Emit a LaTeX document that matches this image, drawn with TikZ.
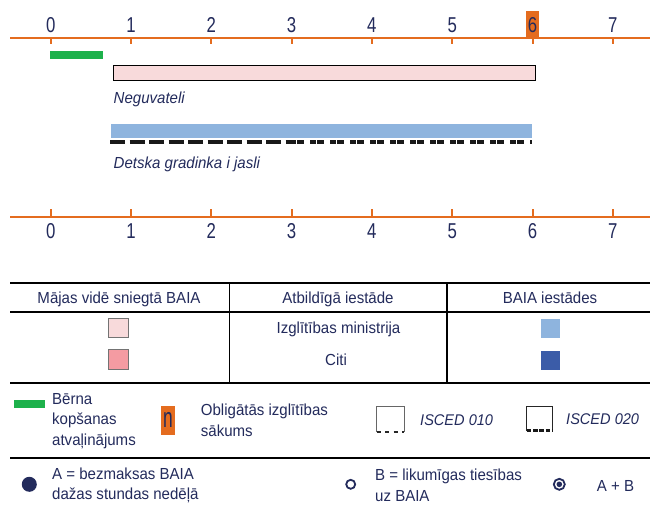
\documentclass[tikz,border=0pt]{standalone}
\usepackage{fontspec}
\setmainfont{Liberation Sans}
\newfontfamily\bodyfont[FakeStretch=0.94]{Liberation Sans}
\newfontfamily\digfont[FakeStretch=0.78]{Liberation Sans}
\newfontfamily\nfont[FakeStretch=0.62]{Liberation Sans}
\definecolor{axisor}{HTML}{E46C1F}
\definecolor{navy}{HTML}{232B5C}
\definecolor{grn}{HTML}{1DB14B}
\definecolor{pinkl}{HTML}{F8DADB}
\definecolor{pinkd}{HTML}{F49BA2}
\definecolor{bluel}{HTML}{8EB4DE}
\definecolor{blued}{HTML}{3B5CA8}
\tikzset{
  txt/.style={font=\bodyfont\fontsize{16}{20.5}\selectfont, text=navy, inner sep=0pt},
  one/.style={txt, text height=11.5pt, text depth=0pt},
  multi/.style={txt, align=left},
  dig/.style={font=\digfont\fontsize{21.5}{24}\selectfont, text=navy, inner sep=0pt, text height=15.4pt, text depth=0pt},
  axisline/.style={draw=axisor, line width=2.2pt},
  tickmark/.style={draw=axisor, line width=2pt},
  rule/.style={draw=black, line width=2pt},
  vrule/.style={draw=black, line width=1.5pt},
  swatch/.style={draw=black!55, line width=0.8pt},
}
\begin{document}
\begin{tikzpicture}[x=1pt,y=-1pt]
\useasboundingbox (0,0) rectangle (650,505);
\fill[white] (0,0) rectangle (650,505);

% ---------- top axis ----------
\coordinate (ta0) at (10,37.7);
\coordinate (ta1) at (650,37.7);
\fill[axisor] (526,11) rectangle (539,37.7);
\draw[axisline] (ta0) -- (ta1);
\foreach \k in {0,...,7}{
  \pgfmathsetmacro\xx{50.7+80.3*\k}
  \coordinate (tt\k) at (\xx,37.7);
  \coordinate (tb\k) at (\xx,44);
  \draw[tickmark] (tt\k) -- (tb\k);
  \node[dig] (tl\k) at (\xx,25) {\k};
}

% ---------- bars ----------
\fill[grn] (50,51) rectangle (102.7,58.7);
\filldraw[fill=pinkl, draw=black, line width=1pt] (113,65.7) rectangle (535.7,80.7);
\node[one, anchor=west, font=\bodyfont\itshape\fontsize{16}{20.5}\selectfont] (neg) at (113.5,98) {Neguvateli};
\fill[bluel] (110.7,124) rectangle (532,138);
\coordinate (d0) at (110,141.7);
\coordinate (d1) at (290,141.7);
\coordinate (d2) at (532,141.7);
\draw[line width=4pt, black!90, dash pattern=on 15pt off 4.5pt] (d0) -- (d1);
\draw[line width=4pt, black!90, dash pattern=on 6pt off 1pt on 7pt off 6pt] (d1) -- (d2);
\node[one, anchor=west, font=\bodyfont\itshape\fontsize{16}{20.5}\selectfont] (det) at (113.5,162.5) {Detska gradinka i jasli};

% ---------- bottom axis ----------
\coordinate (ba0) at (10,216.7);
\coordinate (ba1) at (650,216.7);
\draw[axisline] (ba0) -- (ba1);
\foreach \k in {0,...,7}{
  \pgfmathsetmacro\xx{50.7+80.3*\k}
  \coordinate (bt\k) at (\xx,216.7);
  \coordinate (bb\k) at (\xx,209.3);
  \draw[tickmark] (bt\k) -- (bb\k);
  \node[dig] (bl\k) at (\xx,230.5) {\k};
}

% ---------- table ----------
\coordinate (h1a) at (10,282.7); \coordinate (h1b) at (650,282.7);
\coordinate (h2a) at (10,311.7); \coordinate (h2b) at (650,311.7);
\coordinate (h3a) at (10,382.7); \coordinate (h3b) at (650,382.7);
\coordinate (h4a) at (10,458.3); \coordinate (h4b) at (650,458.3);
\draw[rule] (h1a) -- (h1b);
\draw[rule] (h2a) -- (h2b);
\draw[rule] (h3a) -- (h3b);
\draw[rule] (h4a) -- (h4b);
\coordinate (v1a) at (229.5,282.7); \coordinate (v1b) at (229.5,382.7);
\coordinate (v2a) at (447,282.7); \coordinate (v2b) at (447,382.7);
\draw[vrule] (v1a) -- (v1b);
\draw[vrule] (v2a) -- (v2b);

\node[one] (hd1) at (119,297.5) {Mājas vidē sniegtā BAIA};
\node[one] (hd2) at (338,297.5) {Atbildīgā iestāde};
\node[one] (hd3) at (550,297.5) {BAIA iestādes};

\filldraw[swatch, fill=pinkl] (108,318) rectangle (128,337.7);
\node[one] (r1) at (338.5,328) {Izglītības ministrija};
\fill[bluel] (541,319) rectangle (560,337.7);

\filldraw[swatch, fill=pinkd] (108,349) rectangle (128,369);
\node[one] (r2) at (336,360) {Citi};
\fill[blued] (541,351) rectangle (560,370);

% ---------- legend ----------
\fill[grn] (14,400.3) rectangle (45,407.7);
\node[multi, anchor=west] (lg1) at (52,421) {Bērna\\kopšanas\\atvaļinājums};

\fill[axisor] (161,406) rectangle (175,435);
\node[txt, font=\nfont\fontsize{28}{30}\selectfont, text height=14.5pt, text depth=0pt] (lgn) at (168,420.5) {n};
\node[multi, anchor=west] (lg2) at (200.7,420.5) {Obligātās izglītības\\sākums};

\draw[black!60, line width=0.8pt] (376.7,432) -- (376.7,406.7) -- (404,406.7) -- (404,432);
\draw[black!85, line width=1.5pt, dash pattern=on 4pt off 4.5pt] (376.7,432) -- (404,432);
\node[one, anchor=west, font=\bodyfont\itshape\fontsize{15.5}{20}\selectfont] (lg3) at (420,419.5) {ISCED 010};

\draw[black!85, line width=0.9pt] (526.7,431) -- (526.7,406.7) -- (552.7,406.7) -- (552.7,431);
\draw[black!90, line width=3pt, dash pattern=on 4.5pt off 1.8pt] (526.7,430.5) -- (552.7,430.5);
\node[one, anchor=west, font=\bodyfont\itshape\fontsize{15.5}{20}\selectfont] (lg4) at (566,419) {ISCED 020};

% ---------- bottom legend ----------
\fill[navy] (29.3,484.3) circle (7.5);
\node[multi, anchor=west] (lgA) at (52,485.5) {A = bezmaksas BAIA\\dažas stundas nedēļā};

\draw[navy, line width=1.8pt] (350.7,484.3) circle (4.5);
\node[multi, anchor=west] (lgB) at (375,485.5) {B = likumīgas tiesības\\uz BAIA};

\draw[navy, line width=1.8pt] (559.3,484.3) circle (5.5);
\fill[navy] (559.3,484.3) circle (2.8);
\node[one, anchor=west] (lgAB) at (596.7,485.5) {A + B};
\end{tikzpicture}
\end{document}
